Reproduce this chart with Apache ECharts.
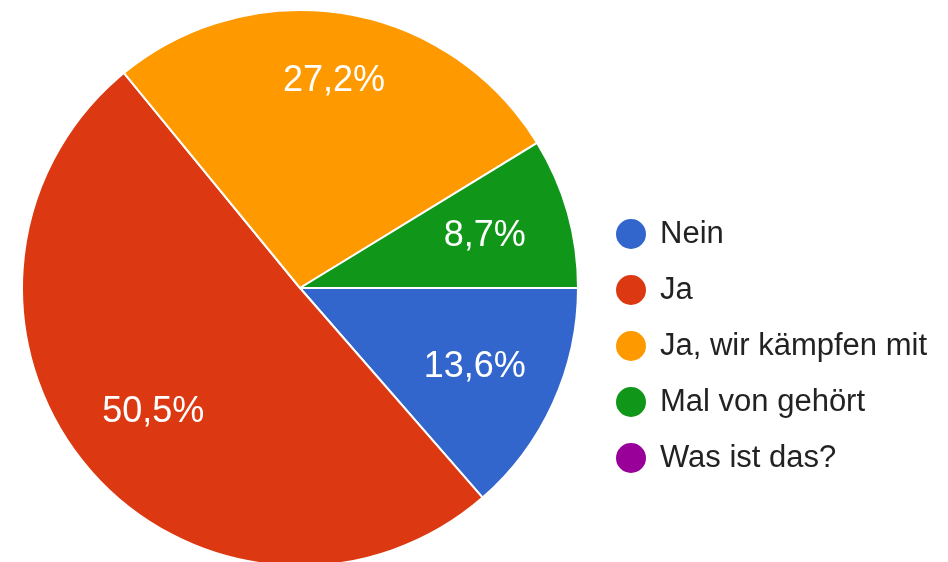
<!DOCTYPE html>
<html lang="de">
<head>
    <meta charset="UTF-8">
    <title>Umfrage</title>
    <script src="https://cdn.jsdelivr.net/npm/echarts@6/dist/echarts.min.js"></script>
</head>
<body style="margin:0;background:#fff">
<div id="echart" style="width:948px;height:562px"></div>
<script>
    // Antworten (Anzahl), ergibt 13,6 / 50,5 / 27,2 / 8,7 / 0 %
    var names = ['Nein', 'Ja', 'Ja, wir kämpfen mit', 'Mal von gehört', 'Was ist das?']
    var counts = [14, 52, 28, 9, 0]
    var colors = ['#3366cc', '#dc3912', '#ff9900', '#109618', '#990099']

    var data = []
    for (var i = 0; i < names.length; i++) {
        data.push({name: names[i], value: counts[i]})
    }

    function fmt(p) {
        if (!p.value) return ''
        return p.percent.toFixed(1).replace('.', ',') + '%'
    }

    var FONT = '"Liberation Sans"'

    // Beschriftungsserie: gleiche Daten, Label beim orangen Stück etwas weiter außen
    var labelData = data.map(function (d, i) {
        var o = {name: d.name, value: d.value}
        if (i === 2) o.label = {offset: [2, -18]}
        return o
    })

    var myChart = echarts.init(document.getElementById('echart'))
    myChart.setOption({
        animation: false,
        color: colors,
        legend: {
            orient: 'vertical',
            left: 609,
            top: 212,
            itemWidth: 32,
            itemHeight: 32,
            itemGap: 22,
            icon: 'circle',
            selectedMode: false,
            data: names,
            textStyle: {
                fontFamily: FONT,
                fontSize: 31,
                lineHeight: 32,
                color: '#222',
                padding: [0, 0, 0, 8]
            }
        },
        series: [{
            type: 'pie',
            center: [300, 288],
            radius: 278,
            startAngle: 0,
            clockwise: true,
            silent: true,
            data: data,
            itemStyle: {borderColor: '#fff', borderWidth: 2},
            label: {show: false},
            labelLine: {show: false}
        }, {
            type: 'pie',
            center: [300, 288],
            radius: [100, 278],
            startAngle: 0,
            clockwise: true,
            silent: true,
            data: labelData,
            itemStyle: {color: 'rgba(0,0,0,0)', borderWidth: 0},
            label: {
                show: true,
                position: 'inside',
                formatter: fmt,
                color: '#fff',
                fontSize: 36,
                fontFamily: FONT
            },
            labelLine: {show: false}
        }]
    })
</script>
</body>
</html>
